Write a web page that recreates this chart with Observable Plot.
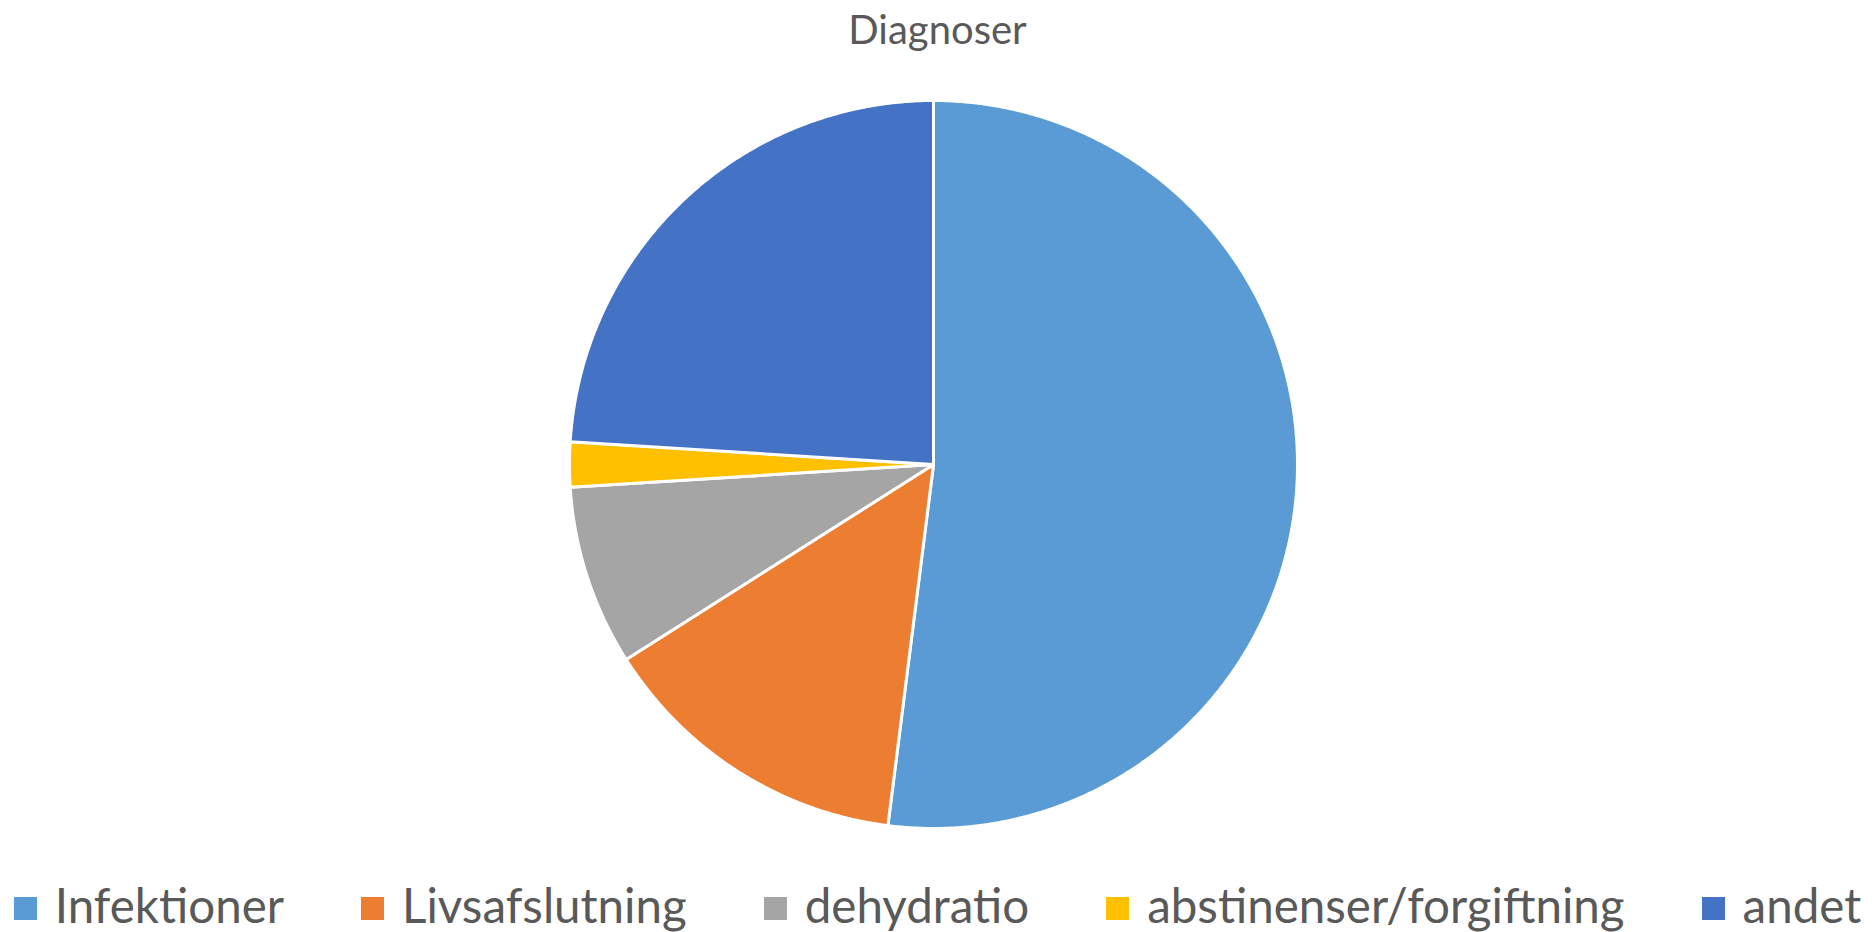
<!DOCTYPE html>
<html>
<head>
<meta charset="utf-8">
<script src="https://cdn.jsdelivr.net/npm/d3@7"></script>
<script src="https://cdn.jsdelivr.net/npm/@observablehq/plot@0.6"></script>
<style>
  html, body { margin: 0; padding: 0; background: #fff; }
  body { width: 1875px; height: 932px; overflow: hidden; position: relative;
         font-family: Lato, "Open Sans", sans-serif; color: #595959; }
  #title { position: absolute; top: 5px; left: 0; width: 1875px; text-align: center;
           font-size: 40px; line-height: 48px; }
  #chart { position: absolute; top: 60px; left: 0; }
  #legend { position: absolute; top: 877px; left: 0; width: 1875px; display: flex;
            justify-content: center; align-items: center; gap: 77px;
            font-size: 47.5px; line-height: 56px; white-space: nowrap; }
  .item { display: flex; align-items: center; gap: 18px; }
  .sw { width: 23px; height: 23px; display: inline-block; position: relative; top: 3px; }
</style>
</head>
<body>
<div id="title">Diagnoser</div>
<div id="chart"></div>
<div id="legend"></div>
<script>
const categories = ["Infektioner", "Livsafslutning", "dehydratio", "abstinenser/forgiftning", "andet"];
const shares = [52, 14, 8, 2, 24];
const colors = ["#5B9BD5", "#ED7D31", "#A5A5A5", "#FFC000", "#4472C4"];

const rows = categories.map((c, i) => ({category: c, value: shares[i]}));
const slices = d3.pie().sort(null).value(d => d.value)(rows);
const features = slices.map(s => {
  const n = Math.max(2, Math.ceil((s.endAngle - s.startAngle) / (Math.PI / 360)));
  const ring = [[0, 0]];
  for (let k = 0; k <= n; k++) {
    const a = s.startAngle + (s.endAngle - s.startAngle) * k / n;
    ring.push([Math.sin(a), -Math.cos(a)]);
  }
  ring.push([0, 0]);
  return {type: "Feature", properties: {category: s.data.category, value: s.data.value},
          geometry: {type: "Polygon", coordinates: [ring]}};
});
const frameDomain = {type: "Polygon", coordinates: [[[-1, -1], [1, -1], [1, 1], [-1, 1], [-1, -1]]]};

const chart = Plot.plot({
  width: 1875, height: 810,
  marginTop: 40, marginBottom: 42, marginLeft: 569, marginRight: 578,
  projection: {type: "identity", domain: frameDomain},
  color: {domain: categories, range: colors},
  style: {background: "#fff"},
  marks: [
    Plot.geo(features, {fill: d => d.properties.category, stroke: "white", strokeWidth: 3, strokeLinejoin: "round"})
  ]
});
document.getElementById("chart").appendChild(chart);

const legend = document.getElementById("legend");
categories.forEach((c, i) => {
  const item = document.createElement("div");
  item.className = "item";
  const sw = document.createElement("span");
  sw.className = "sw";
  sw.style.background = colors[i];
  const label = document.createElement("span");
  label.textContent = c;
  item.appendChild(sw);
  item.appendChild(label);
  legend.appendChild(item);
});
</script>
</body>
</html>
